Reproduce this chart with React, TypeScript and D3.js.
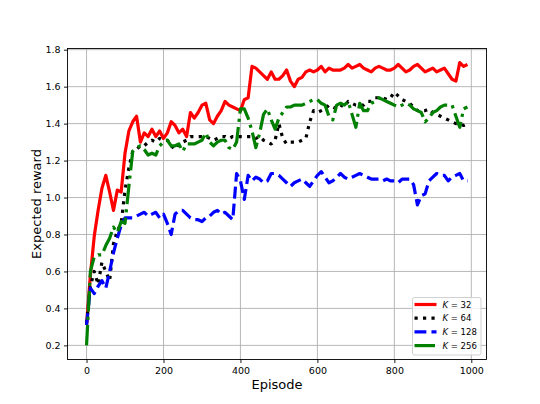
import React, { useEffect, useRef } from 'react';
import * as d3 from 'd3';

// episodes sampled every 10 steps
const episodes = d3.range(0, 1000, 10);

const rewardK32 = [
  0.31, 0.58, 0.79, 0.93, 1.05, 1.12, 1.03, 0.93, 1.04, 1.03,
  1.24, 1.36, 1.41, 1.44, 1.30, 1.35, 1.33, 1.37, 1.33, 1.36,
  1.32, 1.35, 1.41, 1.39, 1.35, 1.37, 1.33, 1.46, 1.43, 1.46,
  1.50, 1.51, 1.42, 1.40, 1.44, 1.47, 1.52, 1.50, 1.49, 1.48,
  1.47, 1.53, 1.54, 1.71, 1.70, 1.68, 1.66, 1.64, 1.68, 1.64,
  1.64, 1.66, 1.69, 1.63, 1.60, 1.64, 1.65, 1.68, 1.69, 1.68,
  1.69, 1.71, 1.68, 1.70, 1.69, 1.69, 1.69, 1.70, 1.72, 1.70,
  1.71, 1.72, 1.70, 1.69, 1.68, 1.70, 1.71, 1.70, 1.69, 1.69,
  1.70, 1.72, 1.70, 1.68, 1.69, 1.71, 1.72, 1.70, 1.68, 1.69,
  1.70, 1.68, 1.69, 1.70, 1.67, 1.64, 1.63, 1.73, 1.71, 1.72,
];

const rewardK64 = [
  0.32, 0.52, 0.60, 0.53, 0.65, 0.60, 0.55, 0.75, 0.82, 0.86,
  1.04, 1.16, 1.25, 1.26, 1.28, 1.28, 1.30, 1.31, 1.30, 1.32,
  1.31, 1.31, 1.28, 1.26, 1.29, 1.30, 1.31, 1.33, 1.33, 1.33,
  1.33, 1.33, 1.32, 1.31, 1.32, 1.33, 1.33, 1.32, 1.33, 1.33,
  1.33, 1.33, 1.33, 1.33, 1.32, 1.33, 1.31, 1.30, 1.29, 1.31,
  1.40, 1.32, 1.29, 1.30, 1.30, 1.30, 1.31, 1.32, 1.41, 1.47,
  1.46, 1.47, 1.48, 1.50, 1.49, 1.48, 1.50, 1.49, 1.52, 1.51,
  1.50, 1.50, 1.50, 1.52, 1.52, 1.54, 1.54, 1.54, 1.53, 1.54,
  1.57, 1.55, 1.53, 1.52, 1.51, 1.49, 1.47, 1.47, 1.47, 1.48,
  1.46, 1.45, 1.44, 1.43, 1.42, 1.41, 1.40, 1.40, 1.39, 1.40,
];

const rewardK128 = [
  0.31, 0.51, 0.48, 0.52, 0.55, 0.51, 0.60, 0.70, 0.78, 0.85,
  0.89, 0.89, 0.89, 0.90, 0.91, 0.92, 0.90, 0.91, 0.92, 0.89,
  0.91, 0.86, 0.80, 0.91, 0.93, 0.93, 0.91, 0.89, 0.88, 0.88,
  0.87, 0.89, 0.90, 0.92, 0.93, 0.91, 0.92, 0.90, 0.88, 1.13,
  1.09, 0.99, 1.12, 1.09, 1.11, 1.10, 1.08, 1.09, 1.13, 1.13,
  1.12, 1.10, 1.08, 1.06, 1.08, 1.09, 1.10, 1.08, 1.06, 1.09,
  1.12, 1.14, 1.11, 1.08, 1.09, 1.11, 1.13, 1.11, 1.10, 1.11,
  1.12, 1.13, 1.12, 1.11, 1.10, 1.10, 1.10, 1.09, 1.10, 1.09,
  1.09, 1.08, 1.10, 1.10, 1.10, 1.07, 0.96, 1.01, 1.02, 1.09,
  1.11, 1.13, 1.12, 1.12, 1.09, 1.11, 1.12, 1.13, 1.09, 1.09,
];

const rewardK256 = [
  0.20, 0.60, 0.68, 0.69, 0.69, 0.74, 0.78, 0.84, 0.81, 0.87,
  0.86, 1.06, 1.25, 1.27, 1.28, 1.26, 1.23, 1.24, 1.23, 1.28,
  1.30, 1.31, 1.28, 1.28, 1.29, 1.25, 1.29, 1.29, 1.29, 1.30,
  1.31, 1.35, 1.30, 1.28, 1.30, 1.31, 1.31, 1.27, 1.26, 1.30,
  1.48, 1.48, 1.43, 1.36, 1.27, 1.35, 1.45, 1.48, 1.42, 1.37,
  1.43, 1.46, 1.49, 1.49, 1.50, 1.50, 1.50, 1.51, 1.52, 1.53,
  1.53, 1.51, 1.50, 1.44, 1.42, 1.50, 1.51, 1.50, 1.52, 1.45,
  1.38, 1.51, 1.47, 1.47, 1.51, 1.52, 1.54, 1.53, 1.52, 1.51,
  1.50, 1.49, 1.50, 1.51, 1.50, 1.48, 1.47, 1.46, 1.41, 1.43,
  1.46, 1.47, 1.49, 1.50, 1.50, 1.50, 1.44, 1.38, 1.48, 1.49,
];

const seriesLabels = ['32', '64', '128', '256'];
const xTicks = [0, 200, 400, 600, 800, 1000];
const yTicks = [0.2, 0.4, 0.6, 0.8, 1.0, 1.2, 1.4, 1.6, 1.8];

const width = 540;
const height = 404;
const left = 67.5;
const right = 486.5;
const top = 48.5;
const bottom = 359.5;
const lw = 3.2;

const series = [
  { label: seriesLabels[0], values: rewardK32, color: '#ff0000', dash: null },
  { label: seriesLabels[1], values: rewardK64, color: '#000000', dash: [1 * lw, 1.65 * lw] },
  { label: seriesLabels[2], values: rewardK128, color: '#0000ff', dash: [3.7 * lw, 1.6 * lw] },
  { label: seriesLabels[3], values: rewardK256, color: '#008000', dash: [6.4 * lw, 1.6 * lw, 1 * lw, 1.6 * lw] },
];

export default function App() {
  const xAxisRef = useRef<SVGGElement>(null);
  const yAxisRef = useRef<SVGGElement>(null);

  // matplotlib style 5% margins
  const xMin = d3.min(episodes)!;
  const xMax = d3.max(episodes)!;
  const allVals = series.flatMap((s) => s.values);
  const yMin = d3.min(allVals)!;
  const yMax = d3.max(allVals)!;
  const xPad = (xMax - xMin) * 0.05;
  const yPad = (yMax - yMin) * 0.05;

  const x = d3.scaleLinear().domain([xMin - xPad, xMax + xPad]).range([left, right]);
  const y = d3.scaleLinear().domain([yMin - yPad, yMax + yPad]).range([bottom, top]);

  const line = d3
    .line<number>()
    .x((d, i) => x(episodes[i]))
    .y((d) => y(d));

  useEffect(() => {
    const xAxis = d3.axisBottom(x).tickValues(xTicks).tickSize(3.5).tickPadding(4.5).tickFormat(d3.format('d'));
    const yAxis = d3.axisLeft(y).tickValues(yTicks).tickSize(3.5).tickPadding(3.5).tickFormat(d3.format('.1f'));
    const gx = d3.select(xAxisRef.current!).call(xAxis as any);
    const gy = d3.select(yAxisRef.current!).call(yAxis as any);
    [gx, gy].forEach((g) => {
      g.select('.domain').remove();
      g.attr('font-family', 'DejaVu Sans, sans-serif').attr('font-size', 9.5);
      g.selectAll('line').attr('stroke', '#000').attr('stroke-width', 0.9);
      g.selectAll('text').attr('fill', '#000');
    });
  }, []);

  const legX = 412.5;
  const legY = 297.5;
  const rowH = 13.7;

  return (
    <div style={{ position: 'fixed', left: 0, top: 0 }}>
      <svg width={width} height={height} style={{ display: 'block', background: '#fff' }}>
        <rect x={0} y={0} width={width} height={height} fill="#fff" />
        <g>
          {xTicks.map((t) => (
            <line key={'gx' + t} x1={x(t)} x2={x(t)} y1={top} y2={bottom} stroke="#b0b0b0" strokeWidth={0.9} />
          ))}
          {yTicks.map((t) => (
            <line key={'gy' + t} x1={left} x2={right} y1={y(t)} y2={y(t)} stroke="#b0b0b0" strokeWidth={0.9} />
          ))}
        </g>
        <clipPath id="plot-clip">
          <rect x={left} y={top} width={right - left} height={bottom - top} />
        </clipPath>
        <g clipPath="url(#plot-clip)">
          {series.map((s) => (
            <path
              key={s.label}
              d={line(s.values) || ''}
              fill="none"
              stroke={s.color}
              strokeWidth={lw}
              strokeDasharray={s.dash ? s.dash.join(',') : undefined}
              strokeLinejoin="round"
            />
          ))}
        </g>
        <rect x={left} y={top} width={right - left} height={bottom - top} fill="none" stroke="#000" strokeWidth={0.9} />
        <g ref={xAxisRef} transform={`translate(0,${bottom})`} />
        <g ref={yAxisRef} transform={`translate(${left},0)`} />

        <text x={(left + right) / 2} y={389} textAnchor="middle" fontFamily="DejaVu Sans, sans-serif" fontSize={13}>
          Episode
        </text>
        <text
          transform={`translate(41,${(top + bottom) / 2}) rotate(-90)`}
          textAnchor="middle"
          fontFamily="DejaVu Sans, sans-serif"
          fontSize={13}
        >
          Expected reward
        </text>

        <g>
          <rect x={legX} y={legY} width={68.5} height={57.5} rx={2} fill="#fff" fillOpacity={0.8} stroke="#cccccc" strokeWidth={0.9} />
          {series.map((s, i) => {
            const cy = legY + 7 + i * rowH;
            return (
              <g key={'leg' + s.label}>
                <line
                  x1={legX + 2}
                  x2={legX + 24}
                  y1={cy}
                  y2={cy}
                  stroke={s.color}
                  strokeWidth={lw}
                  strokeDasharray={s.dash ? s.dash.join(',') : undefined}
                />
                <text x={legX + 30} y={cy + 3} fontFamily="DejaVu Sans, sans-serif" fontSize={8.5}>
                  <tspan fontStyle="italic">K</tspan>
                  <tspan> = {s.label}</tspan>
                </text>
              </g>
            );
          })}
        </g>
      </svg>
    </div>
  );
}
